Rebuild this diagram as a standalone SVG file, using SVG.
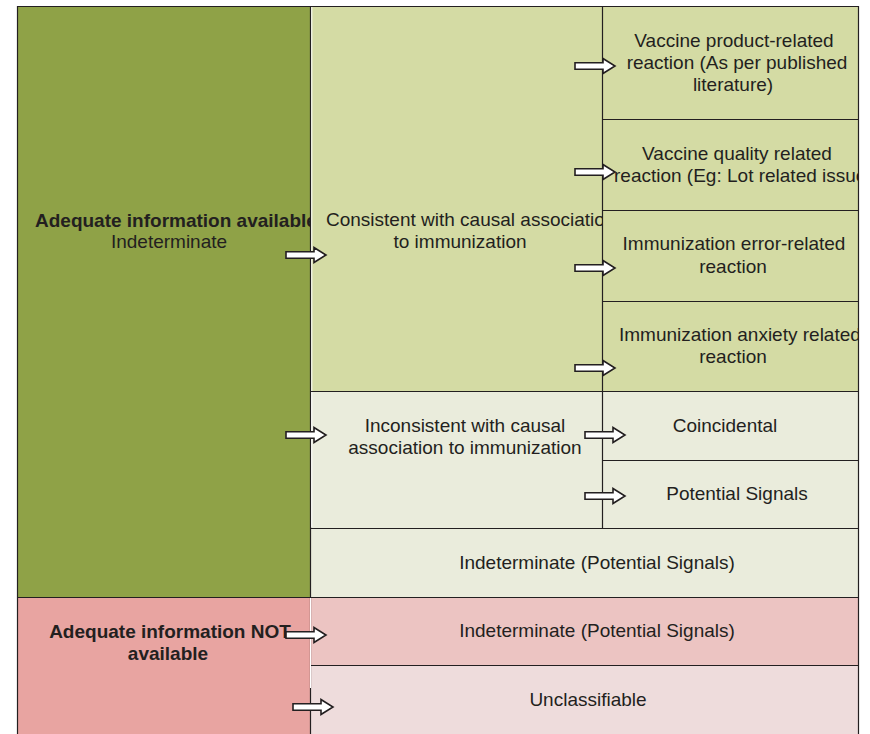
<svg xmlns="http://www.w3.org/2000/svg" width="870" height="734" viewBox="0 0 870 734">
<style>
text{font-family:"Liberation Sans",Arial,Helvetica,sans-serif;font-size:19px;fill:#231f20}
.b{font-weight:bold}
.c{text-anchor:middle}
.ln{stroke:#231f20;stroke-width:1.2;fill:none}
.arr{fill:#fff;stroke:#231f20;stroke-width:1.6;stroke-linejoin:miter}
</style>
<defs>
<clipPath id="clipL"><rect x="17" y="6" width="293" height="591"/></clipPath>
<clipPath id="clipM"><rect x="310" y="6" width="292" height="385"/></clipPath>
<clipPath id="clipR"><rect x="602" y="6" width="257" height="400"/></clipPath>
<path id="ar" d="M0,-3.2 H28 V-7.5 L40,0 L28,7.5 V3.2 H0 Z"/>
</defs>
<rect width="870" height="734" fill="#fff"/>

<g id="n-adequate">
<rect x="17" y="6" width="293" height="591" fill="#8fa247"/>
<g clip-path="url(#clipL)">
<text class="b" x="35" y="227">Adequate information available</text>
</g>
<text class="c" x="169" y="248">Indeterminate</text>
</g>

<g id="n-not-adequate">
<rect x="17" y="597" width="293" height="137" fill="#e8a4a1"/>
<text class="b c" x="170" y="638">Adequate information NOT</text>
<text class="b c" x="168" y="660">available</text>
</g>

<g id="n-consistent">
<rect x="310" y="6" width="292" height="385" fill="#d4dba4"/>
<g clip-path="url(#clipM)">
<text x="326" y="226">Consistent with causal association</text>
</g>
<text class="c" x="460" y="248">to immunization</text>
</g>

<g id="n-inconsistent">
<rect x="310" y="391" width="292" height="137" fill="#eaecdc"/>
<text class="c" x="465" y="432">Inconsistent with causal</text>
<text class="c" x="465" y="454">association to immunization</text>
</g>

<g id="n-product">
<rect x="602" y="6" width="257" height="113" fill="#d4dba4"/>
<text class="c" x="734" y="47">Vaccine product-related</text>
<text class="c" x="737" y="69">reaction (As per published</text>
<text class="c" x="733" y="91">literature)</text>
</g>

<g id="n-quality">
<rect x="602" y="119" width="257" height="91" fill="#d4dba4"/>
<text class="c" x="737" y="160">Vaccine quality related</text>
<g clip-path="url(#clipR)">
<text x="614" y="182">reaction (Eg: Lot related issues)</text>
</g>
</g>

<g id="n-error">
<rect x="602" y="210" width="257" height="91" fill="#d4dba4"/>
<text class="c" x="734" y="250">Immunization error-related</text>
<text class="c" x="733" y="273">reaction</text>
</g>

<g id="n-anxiety">
<rect x="602" y="301" width="257" height="90" fill="#d4dba4"/>
<g clip-path="url(#clipR)">
<text x="619" y="341">Immunization anxiety related</text>
</g>
<text class="c" x="733" y="363">reaction</text>
</g>

<g id="n-coincidental">
<rect x="602" y="391" width="257" height="69" fill="#eaecdc"/>
<text class="c" x="725" y="432">Coincidental</text>
</g>

<g id="n-potential">
<rect x="602" y="460" width="257" height="68" fill="#eaecdc"/>
<text class="c" x="737" y="500">Potential Signals</text>
</g>

<g id="n-indeterminate1">
<rect x="310" y="528" width="549" height="69" fill="#eaecdc"/>
<text class="c" x="597" y="569">Indeterminate (Potential Signals)</text>
</g>

<g id="n-indeterminate2">
<rect x="310" y="597" width="549" height="68" fill="#ecc4c2"/>
<text class="c" x="597" y="637">Indeterminate (Potential Signals)</text>
</g>

<g id="n-unclassifiable">
<rect x="310" y="665" width="549" height="69" fill="#eedcdc"/>
<text class="c" x="588" y="706">Unclassifiable</text>
</g>

<g id="grid">
<path class="ln" d="M17,6.5 H859 M17.5,6 V734 M310.5,6 V734 M602.5,6 V528 M858.5,6 V734
M602,119.5 H859 M602,210.5 H859 M602,301.5 H859 M310,391.5 H859 M602,460.5 H859
M310,528.5 H859 M17,597.5 H859 M310,665.5 H859"/>
<path d="M311.8,7 V391 M311.8,392 V527" stroke="#fff" stroke-width="1"/>
<path d="M310.5,598 V688" stroke="#fff" stroke-width="1"/>
</g>

<g id="connectors">
<use href="#ar" class="arr" x="286" y="255"/>
<use href="#ar" class="arr" x="286" y="435"/>
<use href="#ar" class="arr" x="575" y="66"/>
<use href="#ar" class="arr" x="575" y="172"/>
<use href="#ar" class="arr" x="575" y="268"/>
<use href="#ar" class="arr" x="575" y="368"/>
<use href="#ar" class="arr" x="585" y="435"/>
<use href="#ar" class="arr" x="585" y="496"/>
<use href="#ar" class="arr" x="286" y="635"/>
<use href="#ar" class="arr" x="293" y="707"/>
</g>
</svg>
